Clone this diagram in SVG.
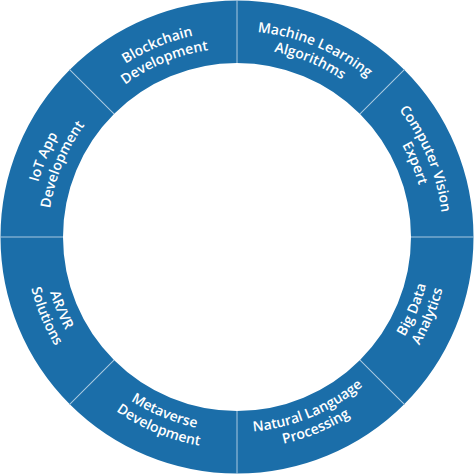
<svg xmlns="http://www.w3.org/2000/svg" xmlns:xlink="http://www.w3.org/1999/xlink" width="474" height="474" viewBox="0 0 474 474">
<style>
.seg{fill:#1b6ea9}
.lbl{font-family:"Open Sans","Liberation Sans",sans-serif;font-weight:600;font-size:14px;fill:#ffffff;text-anchor:middle}
.div{stroke:#a9c8e0;stroke-width:1}
</style>
<defs>
<path id="seg" d="M237,0.5 A236.5,236.5 0 0 1 404.23,69.77 L360.04,113.96 A174,174 0 0 0 237,63 Z"/>
<path id="t1" d="M104.586,79.195 A206,206 0 0 1 369.414,79.195"/>
<path id="t2" d="M115.513,92.218 A189,189 0 0 1 358.487,92.218"/>
<path id="b1" d="M111.656,386.379 A195,195 0 0 0 362.344,386.379"/>
<path id="b2" d="M100.729,399.401 A212,212 0 0 0 373.271,399.401"/>
</defs>
<g id="node-ml">
<use href="#seg" class="seg"/>
<text class="lbl" transform="rotate(22.5 237 237)"><textPath href="#t1" startOffset="50%">Machine Learning</textPath></text>
<text class="lbl" transform="rotate(22.5 237 237)"><textPath href="#t2" startOffset="50%">Algorithms</textPath></text>
</g>
<g id="node-cv">
<use href="#seg" class="seg" transform="rotate(45 237 237)"/>
<text class="lbl" transform="rotate(67.5 237 237)"><textPath href="#t1" startOffset="50%">Computer Vision</textPath></text>
<text class="lbl" transform="rotate(67.5 237 237)"><textPath href="#t2" startOffset="50%">Expert</textPath></text>
</g>
<g id="node-bd">
<use href="#seg" class="seg" transform="rotate(90 237 237)"/>
<text class="lbl" transform="rotate(-67.5 237 237)"><textPath href="#b1" startOffset="50%">Big Data</textPath></text>
<text class="lbl" transform="rotate(-67.5 237 237)"><textPath href="#b2" startOffset="50%">Analytics</textPath></text>
</g>
<g id="node-nlp">
<use href="#seg" class="seg" transform="rotate(135 237 237)"/>
<text class="lbl" transform="rotate(-22.5 237 237)"><textPath href="#b1" startOffset="50%">Natural Language</textPath></text>
<text class="lbl" transform="rotate(-22.5 237 237)"><textPath href="#b2" startOffset="50%">Processing</textPath></text>
</g>
<g id="node-meta">
<use href="#seg" class="seg" transform="rotate(180 237 237)"/>
<text class="lbl" transform="rotate(22.5 237 237)"><textPath href="#b1" startOffset="50%">Metaverse</textPath></text>
<text class="lbl" transform="rotate(22.5 237 237)"><textPath href="#b2" startOffset="50%">Development</textPath></text>
</g>
<g id="node-arvr">
<use href="#seg" class="seg" transform="rotate(225 237 237)"/>
<text class="lbl" transform="rotate(67.5 237 237)"><textPath href="#b1" startOffset="50%">AR/VR</textPath></text>
<text class="lbl" transform="rotate(67.5 237 237)"><textPath href="#b2" startOffset="50%">Solutions</textPath></text>
</g>
<g id="node-iot">
<use href="#seg" class="seg" transform="rotate(270 237 237)"/>
<text class="lbl" transform="rotate(-67.5 237 237)"><textPath href="#t1" startOffset="50%">IoT App</textPath></text>
<text class="lbl" transform="rotate(-67.5 237 237)"><textPath href="#t2" startOffset="50%">Development</textPath></text>
</g>
<g id="node-bc">
<use href="#seg" class="seg" transform="rotate(315 237 237)"/>
<text class="lbl" transform="rotate(-22.5 237 237)"><textPath href="#t1" startOffset="50%">Blockchain</textPath></text>
<text class="lbl" transform="rotate(-22.5 237 237)"><textPath href="#t2" startOffset="50%">Development</textPath></text>
</g>
<g id="connectors">
<line class="div" x1="237" y1="63" x2="237" y2="0"/>
<line class="div" x1="237" y1="63" x2="237" y2="0" transform="rotate(45 237 237)"/>
<line class="div" x1="237" y1="63" x2="237" y2="0" transform="rotate(90 237 237)"/>
<line class="div" x1="237" y1="63" x2="237" y2="0" transform="rotate(135 237 237)"/>
<line class="div" x1="237" y1="63" x2="237" y2="0" transform="rotate(180 237 237)"/>
<line class="div" x1="237" y1="63" x2="237" y2="0" transform="rotate(225 237 237)"/>
<line class="div" x1="237" y1="63" x2="237" y2="0" transform="rotate(270 237 237)"/>
<line class="div" x1="237" y1="63" x2="237" y2="0" transform="rotate(315 237 237)"/>
</g>
</svg>
